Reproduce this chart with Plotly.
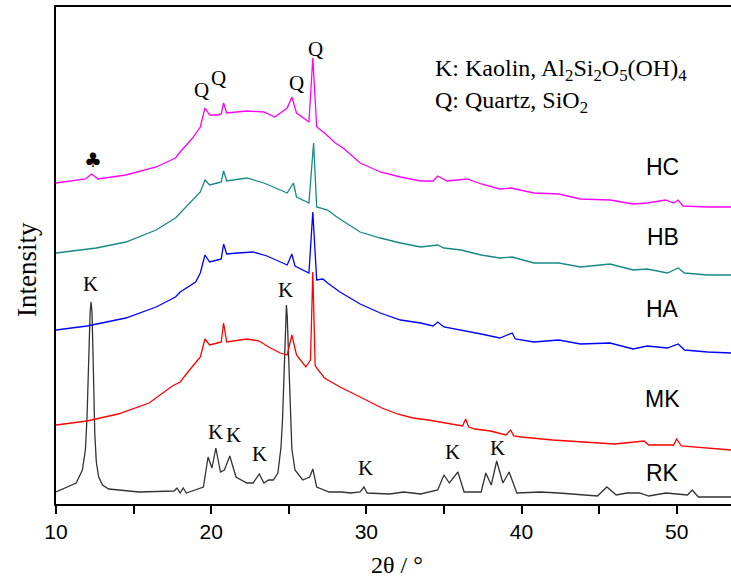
import plotly.graph_objects as go

# 2theta (deg) and intensity (a.u.), stacked offsets included
rk_x = [10.0, 11.3, 11.7, 11.9, 12.0, 12.1, 12.2, 12.26, 12.32, 12.4, 12.5, 12.6, 12.75, 13.0, 13.4, 15.35,
        17.6, 17.8, 18.0, 18.2, 18.4,
        19.5, 19.8, 20.05, 20.3, 20.6, 20.85, 21.2, 21.6, 22.3, 22.7, 23.1, 23.4, 23.7, 24.0, 24.3, 24.5,
        24.6, 24.7, 24.8, 24.85, 24.9, 25.0, 25.1, 25.2, 25.4, 25.9, 26.35, 26.55, 26.8, 27.6, 28.4, 29.0,
        29.6, 29.85, 30.05,
        31.5, 32.4, 33.5, 34.6, 35.0, 35.35, 35.9, 36.3, 37.4, 37.7, 38.05, 38.4, 38.8, 39.2, 39.7,
        41.2, 42.4, 44.9, 45.5, 46.1, 46.8, 47.6, 48.2, 49.3, 50.7, 51.0, 51.4, 52.3, 53.5]
rk_y = [12, 21, 34, 55, 87, 150, 192, 202, 192, 140, 70, 42, 27, 19, 15, 12,
        13, 16, 11, 16, 11,
        17, 47, 36, 56, 32, 34, 48, 27, 21, 21, 30, 21, 24, 24, 31, 57,
        85, 140, 188, 199, 188, 137, 85, 55, 34, 24, 27, 35, 17, 12, 12, 11,
        12, 17, 11,
        10, 12, 10, 14, 29, 21, 32, 12, 12, 31, 19, 43, 21, 32, 11,
        12, 11, 8, 17, 9, 11, 11, 8, 11, 9, 14, 7, 7, 7]

mk_x = [10.0, 12.0, 14.0, 16.0, 17.5, 18.0, 18.5, 19.3, 19.6, 19.9, 20.4, 20.65, 20.8, 21.0, 22.3, 23.1,
        23.7, 24.45, 24.9, 25.2, 25.5, 26.1, 26.4, 26.55, 26.7, 26.8, 27.3, 28.3, 29.6, 31.0, 32.0, 33.0,
        34.0, 35.0, 36.2, 36.4, 36.6, 37.0, 38.0, 39.0, 39.3, 39.5, 40.0, 42.0, 44.0, 46.0, 47.9, 48.2,
        49.8, 50.0, 50.3, 52.0, 53.5]
mk_y = [79, 83, 90, 101, 118, 122, 132, 147, 165, 159, 161, 162, 181, 162, 165, 163,
        157, 151, 149, 169, 149, 137, 144, 232, 139, 136, 126, 117, 107, 96, 90, 86,
        84, 81, 78, 85, 77, 75, 73, 69, 74, 68, 67, 64, 62, 60, 63, 59,
        59, 65, 58, 56, 54]

ha_x = [10.0, 12.0, 14.5, 16.45, 17.7, 18.0, 19.0, 19.3, 19.6, 19.9, 20.4, 20.65, 20.8, 21.0, 21.7, 22.7,
        23.6, 24.45, 24.9, 25.2, 25.4, 26.3, 26.55, 26.8, 27.2, 27.5, 28.3, 29.6, 30.9, 32.2, 33.5, 34.3,
        34.6, 35.0, 36.1, 37.4, 38.6, 39.4, 39.6, 40.8, 42.4, 43.8, 45.7, 47.2, 48.1, 49.4, 50.1, 50.5,
        52.0, 53.5]
ha_y = [174, 178, 186, 197, 207, 212, 222, 231, 249, 242, 244, 245, 260, 250, 251, 252,
        248, 242, 239, 250, 238, 231, 292, 224, 225, 221, 212, 200, 191, 184, 181, 178,
        182, 177, 174, 170, 166, 171, 165, 162, 164, 160, 161, 155, 158, 156, 160, 154,
        152, 151]

hb_x = [10.0, 12.6, 14.5, 16.45, 17.7, 18.0, 18.8, 19.3, 19.6, 19.9, 20.4, 20.65, 20.8, 21.0, 22.3, 23.4,
        24.45, 24.9, 25.3, 25.5, 26.3, 26.6, 26.8, 27.5, 28.1, 29.6, 30.9, 32.2, 33.5, 34.6, 35.0, 36.1,
        37.4, 38.6, 39.4, 40.8, 42.4, 43.8, 45.7, 47.2, 48.1, 49.4, 50.1, 50.5, 52.0, 53.5]
hb_y = [251, 256, 262, 274, 286, 291, 304, 312, 324, 319, 321, 322, 333, 323, 326, 321,
        314, 311, 321, 307, 301, 361, 297, 294, 287, 272, 266, 261, 257, 259, 256, 254,
        249, 246, 247, 241, 241, 237, 240, 234, 235, 231, 236, 231, 229, 229]

hc_x = [10.0, 11.9, 12.3, 12.7, 14.5, 16.45, 17.7, 18.0, 18.8, 19.3, 19.6, 19.9, 20.4, 20.65, 20.8, 21.0,
        22.3, 23.4, 24.1, 24.9, 25.2, 25.5, 26.3, 26.55, 26.8, 27.3, 28.0, 28.5, 29.6, 30.9, 32.2, 33.5,
        34.3, 34.6, 35.2, 36.5, 37.4, 38.6, 39.3, 40.8, 42.4, 43.8, 45.7, 47.2, 48.1, 49.3, 49.8, 50.1,
        50.4, 52.0, 53.5]
hc_y = [321, 325, 330, 325, 329, 337, 346, 352, 366, 377, 396, 389, 389, 390, 401, 391,
        393, 392, 387, 396, 407, 391, 382, 446, 377, 371, 361, 356, 341, 332, 327, 323,
        323, 328, 323, 325, 320, 315, 316, 311, 310, 305, 304, 300, 301, 304, 301, 304,
        298, 297, 297]

series = [
    ("RK", rk_x, rk_y, "#333333"),
    ("MK", mk_x, mk_y, "#FF0000"),
    ("HA", ha_x, ha_y, "#0000FF"),
    ("HB", hb_x, hb_y, "#158A85"),
    ("HC", hc_x, hc_y, "#FF00FF"),
]

sample_labels = ["HC", "HB", "HA", "MK", "RK"]
sample_label_y = [337, 267, 195, 105, 31]

x_ticks = [10, 20, 30, 40, 50]

fig = go.Figure()
for name, xs, ys, col in series:
    fig.add_trace(go.Scatter(x=xs, y=ys, mode="lines", name=name,
                             line=dict(color=col, width=1.3), showlegend=False))

serif = "Liberation Serif, Times New Roman, serif"
sans = "Liberation Sans, Arial, sans-serif"

ann = []
peak_labels = [
    ("K", 12.2, 220), ("K", 24.77, 214), ("K", 20.26, 72), ("K", 21.42, 69), ("K", 23.1, 50),
    ("K", 29.94, 36), ("K", 35.55, 52), ("K", 38.45, 56),
    ("Q", 19.35, 414), ("Q", 20.45, 426), ("Q", 25.48, 421), ("Q", 26.71, 455),
]
for t, x, y in peak_labels:
    ann.append(dict(x=x, y=y, text=t, showarrow=False, xref="x", yref="y",
                    xanchor="center", yanchor="middle",
                    font=dict(family=serif, size=21, color="black")))
ann.append(dict(x=12.39, y=344, text="♣", showarrow=False, xanchor="center", yanchor="middle",
                font=dict(family="DejaVu Sans", size=20, color="black")))

for t, y in zip(sample_labels, sample_label_y):
    ann.append(dict(x=49.1, y=y, text=t, showarrow=False, xanchor="center", yanchor="middle",
                    font=dict(family=sans, size=23, color="black")))

ann.append(dict(x=34.32, y=434, xanchor="left", yanchor="middle", showarrow=False,
                text="K: Kaolin, Al<sub>2</sub>Si<sub>2</sub>O<sub>5</sub>(OH)<sub>4</sub>",
                font=dict(family=serif, size=24, color="black")))
ann.append(dict(x=34.32, y=402, xanchor="left", yanchor="middle", showarrow=False,
                text="Q: Quartz, SiO<sub>2</sub>",
                font=dict(family=serif, size=24, color="black")))

ann.append(dict(xref="paper", yref="paper", x=0.505, y=-0.123, xanchor="center", yanchor="middle",
                text="2θ / °", showarrow=False,
                font=dict(family=serif, size=24, color="black")))
ann.append(dict(xref="paper", yref="paper", x=-0.043, y=0.473, xanchor="center", yanchor="middle",
                text="Intensity", showarrow=False,
                textangle=-90, font=dict(family=serif, size=27, color="black")))

fig.update_layout(
    width=731, height=577,
    margin=dict(l=56, r=0, t=7, b=73),
    paper_bgcolor="white", plot_bgcolor="white",
    annotations=ann,
    xaxis=dict(range=[10, 53.5], tickvals=x_ticks, ticktext=[str(v) for v in x_ticks],
               ticks="outside", ticklen=8, tickwidth=1.5, tickcolor="black",
               minor=dict(dtick=5, tick0=0, ticks="outside", ticklen=8, tickwidth=1.5, tickcolor="black"),
               showline=True, linecolor="black", linewidth=1.5, mirror=True,
               showgrid=False, zeroline=False,
               tickfont=dict(family=sans, size=21, color="black")),
    yaxis=dict(range=[0, 497], showticklabels=False, ticks="", showline=True,
               linecolor="black", linewidth=1.5, showgrid=False, zeroline=False),
)

fig.write_html("out.html", config={"displayModeBar": False},
               post_script="document.body.style.margin='0';document.body.style.overflow='hidden';")
